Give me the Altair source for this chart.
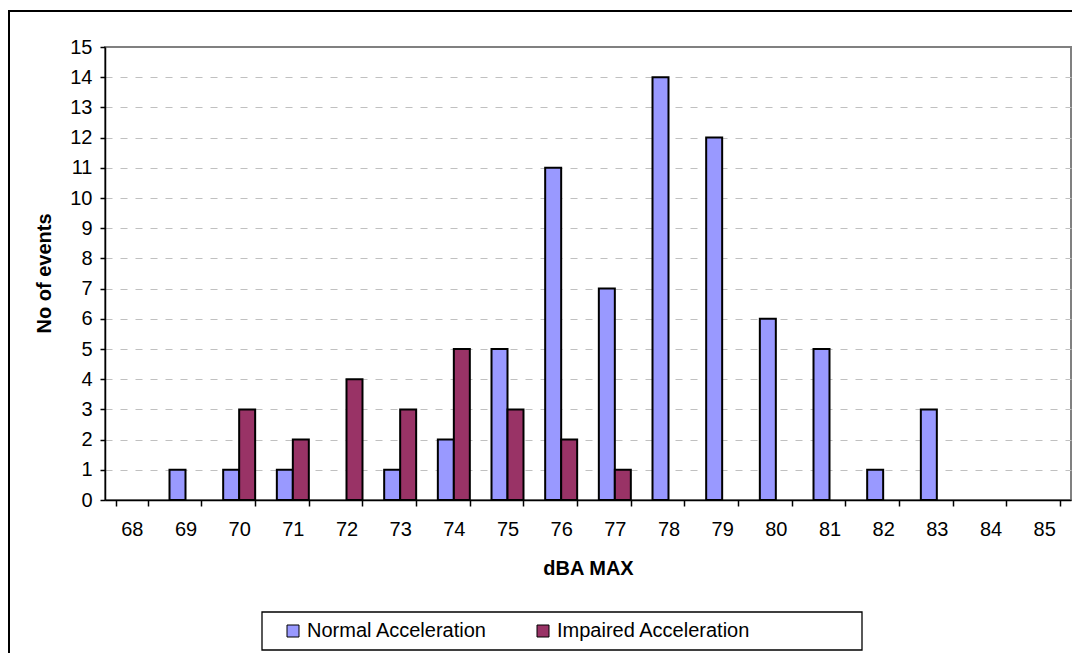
import altair as alt
import pandas as pd

categories = ["68", "69", "70", "71", "72", "73", "74", "75", "76",
              "77", "78", "79", "80", "81", "82", "83", "84", "85"]
normal = [0, 1, 1, 1, 0, 1, 2, 5, 11, 7, 14, 12, 6, 5, 1, 3, 0, 0]
impaired = [0, 0, 3, 2, 4, 3, 5, 3, 2, 1, 0, 0, 0, 0, 0, 0, 0, 0]
series = ["Normal Acceleration", "Impaired Acceleration"]
colors = ["#9999FF", "#993366"]
y_ticks = list(range(0, 16))

rows = []
for c, n, i in zip(categories, normal, impaired):
    rows.append({"cat": c, "series": series[0], "value": n})
    rows.append({"cat": c, "series": series[1], "value": i})
df = pd.DataFrame(rows)
df = df[df["value"] > 0]

FONT = "Liberation Sans"
W, H = 966, 453

bars = alt.Chart(df).mark_bar(stroke="black", strokeWidth=2).encode(
    x=alt.X(
        "cat:N",
        sort=categories,
        scale=alt.Scale(domain=categories, paddingInner=0.404, paddingOuter=0.202),
        axis=alt.Axis(
            title="dBA MAX",
            tickBand="extent",
            labelAngle=0,
            labelFontSize=20,
            labelColor="black",
            labelBaseline="alphabetic",
            labelPadding=29,
            tickSize=6,
            tickColor="black",
            tickWidth=1.5,
            domainColor="black",
            domainWidth=1.5,
            grid=False,
            titleFontSize=20,
            titleFontWeight="bold",
            titleColor="black",
            titleBaseline="alphabetic",
            titleY=74,
        ),
    ),
    xOffset=alt.XOffset("series:N", sort=series,
                        scale=alt.Scale(domain=series, paddingInner=0, paddingOuter=0)),
    y=alt.Y(
        "value:Q",
        scale=alt.Scale(domain=[0, 15], nice=False),
        axis=alt.Axis(
            title="No of events",
            values=y_ticks,
            labelFontSize=20,
            labelColor="black",
            labelPadding=8,
            tickSize=5,
            tickColor="black",
            tickWidth=1.5,
            domainColor="black",
            domainWidth=1.5,
            grid=True,
            gridColor=alt.condition("datum.value == 0 || datum.value == 15",
                                    alt.value("transparent"), alt.value("#c0c0c0")),
            gridDash=[7, 8],
            gridWidth=1.2,
            titleFontSize=20,
            titleFontWeight="bold",
            titleColor="black",
            titleBaseline="alphabetic",
            titleX=-55,
            titleY=226,
        ),
    ),
    color=alt.Color(
        "series:N",
        sort=series,
        scale=alt.Scale(domain=series, range=colors),
        legend=alt.Legend(
            title=None,
            orient="none",
            legendX=178,
            legendY=574,
            direction="horizontal",
            symbolType="square",
            symbolSize=144,
            symbolStrokeColor="black",
            symbolStrokeWidth=1,
            labelFontSize=20,
            labelColor="black",
            labelLimit=0,
            labelOffset=4,
            columnPadding=45,
            padding=0,
        ),
    ),
)

one = pd.DataFrame({"a": [0]})

outer_box = alt.Chart(one).mark_rect(fill="transparent", stroke="black", strokeWidth=2).encode(
    x=alt.value(-96), x2=alt.value(980), y=alt.value(-36), y2=alt.value(620)
)
legend_box = alt.Chart(one).mark_rect(fill="transparent", stroke="black", strokeWidth=1.3).encode(
    x=alt.value(157), x2=alt.value(757), y=alt.value(565), y2=alt.value(603)
)

chart = alt.layer(outer_box, legend_box, bars).properties(
    width=W,
    height=H,
    padding={"left": 97, "top": 39, "right": 1, "bottom": 153},
    autosize=alt.AutoSizeParams(type="none"),
    background="white",
).configure(
    font=FONT,
).configure_view(
    stroke="#808080",
    strokeWidth=2,
)

chart.save("out.html", embed_options={"renderer": "svg", "actions": False})
